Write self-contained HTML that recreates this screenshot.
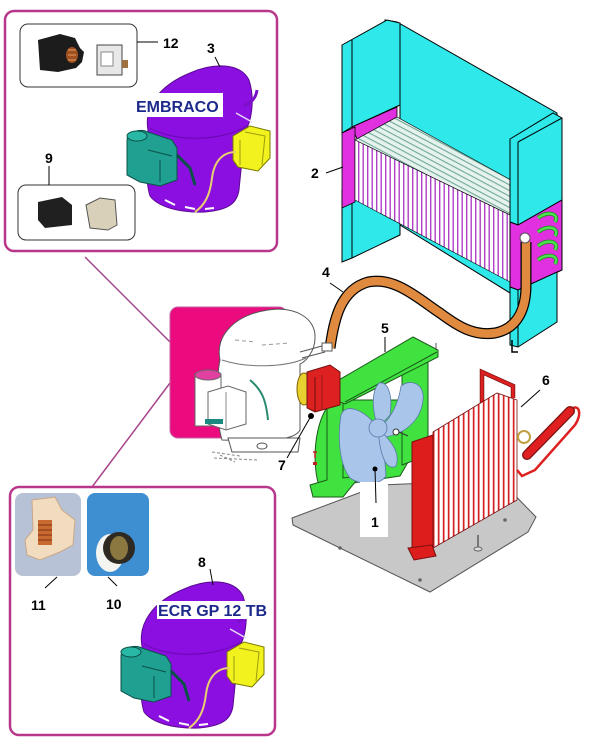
<!DOCTYPE html>
<html><head><meta charset="utf-8"><style>
html,body{margin:0;padding:0;background:#fff;}
svg{display:block;}
text{font-family:"Liberation Sans",Arial,sans-serif;}
</style></head><body>
<svg width="600" height="744" viewBox="0 0 600 744" xmlns="http://www.w3.org/2000/svg">
<defs>
<pattern id="fv" width="4.5" height="10" patternUnits="userSpaceOnUse">
<rect width="4.5" height="10" fill="#fff"/><rect x="2.5" width="1.4" height="10" fill="#b040c8"/>
</pattern>
<pattern id="ft" width="6" height="5" patternUnits="userSpaceOnUse" patternTransform="rotate(28)">
<rect width="6" height="5" fill="#e6f2ee"/><rect y="3.5" width="6" height="1.1" fill="#6fa898"/>
</pattern>
<pattern id="cf" width="5" height="10" patternUnits="userSpaceOnUse">
<rect width="5" height="10" fill="#fff"/><rect x="2.8" width="1.7" height="10" fill="#d42020"/>
</pattern>
<g id="pcomp">
<path d="M148,130 C144,108 158,86 190,73 C212,63 240,62 249,80 C254,95 253,115 247,128 C243,145 241,170 239,190 C237,203 229,210 205,212 C180,213 158,207 150,196 C145,180 146,150 148,130 Z" fill="#8a0fe0" stroke="#5a0a90" stroke-width="1"/>
<path d="M150,128 C175,142 220,142 247,126" stroke="#6a08b0" fill="none"/>
<path d="M244,106 C252,102 256,98 257,90" stroke="#7a10c8" stroke-width="3" fill="none"/>
<path d="M236,113 L252,122" stroke="#e8d8f8" stroke-width="1.5"/>
<path d="M165,200 L175,205 M185,207 L195,209 M205,209 L214,208" stroke="#fff" stroke-width="2"/>
<path d="M127,140 C127,132 140,128 148,132 L172,140 L177,148 L177,180 L160,186 L140,182 L127,175 Z" fill="#1fa090" stroke="#0b5048"/>
<ellipse cx="137" cy="136" rx="10" ry="5" fill="#2ab8a6" stroke="#0b5048"/>
<path d="M148,150 L172,156 M160,160 L160,182" stroke="#0b5048" fill="none"/>
<path d="M177,155 L190,168 L195,185" stroke="#0b5048" stroke-width="3" fill="none"/>
<path d="M233,136 L250,126 L270,131 L270,158 L258,171 L238,167 L233,160 Z" fill="#f2f21e" stroke="#7a7a00"/>
<path d="M245,132 L265,136 L262,165 M240,140 L240,165" stroke="#9a9a10" fill="none"/>
<path d="M236,152 C222,152 214,162 212,178 C210,195 205,205 195,212" stroke="#e8d070" stroke-width="2" fill="none"/>
</g>
</defs>

<!-- TOP BOX -->
<rect x="5" y="11" width="272" height="240" rx="9" fill="#fff" stroke="#b8378a" stroke-width="2.5"/>
<rect x="20" y="24" width="117" height="63" rx="8" fill="#fff" stroke="#333" stroke-width="1"/>
<path d="M38,40 L60,34 L75,38 L80,48 L84,52 L82,62 L76,68 L58,72 L40,70 Z" fill="#1c1c1c"/>
<ellipse cx="72" cy="55" rx="6" ry="8" fill="#a05020"/>
<path d="M68,50 L76,50 M68,55 L76,55 M68,60 L76,60" stroke="#e0a060" stroke-width="1"/>
<rect x="97" y="45" width="25" height="30" fill="#e8e8e8" stroke="#444"/>
<rect x="101" y="52" width="12" height="14" fill="#fff" stroke="#888"/>
<rect x="122" y="60" width="6" height="8" fill="#a07040"/>
<rect x="18" y="185" width="117" height="55" rx="8" fill="#fff" stroke="#333" stroke-width="1"/>
<path d="M38,202 L62,197 L72,205 L72,225 L45,228 L38,220 Z" fill="#202020"/>
<path d="M86,205 L100,198 L115,200 L117,225 L108,230 L90,228 Z" fill="#d8d0b8" stroke="#555"/>
<use href="#pcomp"/>
<rect x="133" y="93" width="90" height="24" fill="#fff"/>
<text x="136" y="112" font-size="16" font-weight="bold" fill="#1c2a8c">EMBRACO</text>
<text x="163" y="48" font-size="14" font-weight="bold" fill="#000">12</text>
<line x1="137" y1="42" x2="158" y2="42" stroke="#000"/>
<text x="207" y="53" font-size="14" font-weight="bold" fill="#000">3</text>
<line x1="215" y1="57" x2="220" y2="67" stroke="#000"/>
<text x="45" y="163" font-size="14" font-weight="bold" fill="#000">9</text>
<line x1="49" y1="166" x2="49" y2="185" stroke="#000"/>

<!-- connecting lines -->
<line x1="85" y1="257" x2="170" y2="342" stroke="#a8448a" stroke-width="1.5"/>
<line x1="170" y1="383" x2="92" y2="487" stroke="#a8448a" stroke-width="1.5"/>

<!-- BOTTOM BOX -->
<rect x="10" y="487" width="265" height="248" rx="9" fill="#fff" stroke="#b8378a" stroke-width="2.5"/>
<rect x="15" y="493" width="66" height="83" rx="8" fill="#b8c2d6"/>
<path d="M32,500 L55,497 L62,510 L75,520 L73,545 L60,552 L40,560 L27,555 L25,540 L33,530 Z" fill="#f2dcc0" stroke="#c8a888"/>
<rect x="38" y="520" width="14" height="25" fill="#c86a30"/>
<path d="M38,525 L52,525 M38,530 L52,530 M38,535 L52,535 M38,540 L52,540" stroke="#803010"/>
<rect x="87" y="493" width="62" height="83" rx="8" fill="#3e8ed2"/>
<ellipse cx="110" cy="553" rx="14" ry="19" fill="#f4f4f0"/>
<circle cx="119" cy="548" r="16" fill="#2e2a22"/>
<ellipse cx="119" cy="548" rx="9" ry="12" fill="#8a7840"/>
<use href="#pcomp" transform="translate(-6,516)"/>
<rect x="157" y="601" width="110" height="18" fill="#fff"/>
<text x="158" y="616" font-size="16" font-weight="bold" fill="#1c2a8c">ECR GP 12 TB</text>
<text x="198" y="567" font-size="14" font-weight="bold" fill="#000">8</text>
<line x1="210" y1="569" x2="213" y2="585" stroke="#000"/>
<text x="31" y="610" font-size="14" font-weight="bold" fill="#000">11</text>
<line x1="45" y1="588" x2="57" y2="577" stroke="#000"/>
<text x="106" y="609" font-size="14" font-weight="bold" fill="#000">10</text>
<line x1="108" y1="577" x2="117" y2="586" stroke="#000"/>

<!-- EVAPORATOR (2) -->
<polygon points="385,20 397,22 557,113 557,300 510,293 400,225 400,100" fill="#2ee8ea" stroke="#000"/>
<polygon points="342,45 387,20 400,23 400,105 352,127 342,133" fill="#2ee8ea" stroke="#000"/>
<line x1="352" y1="40" x2="352" y2="127" stroke="#000"/>
<polygon points="342,190 352,193 400,218 400,235 352,258 342,262" fill="#2ee8ea" stroke="#000"/>
<line x1="352" y1="193" x2="352" y2="258" stroke="#000"/>
<polygon points="352,127 397,107 397,117 357,139" fill="#e030e0" stroke="#000" stroke-width="0.8"/>
<polygon points="342,133 355,127 355,202 342,208" fill="#e030e0" stroke="#000" stroke-width="0.8"/>
<polygon points="355,140 397,117 520,185 510,215" fill="url(#ft)" stroke="#000" stroke-width="0.6"/>
<polygon points="355,140 510,215 510,282 355,200" fill="url(#fv)" stroke="#000" stroke-width="0.6"/>
<polygon points="510,139 553,113 562,118 562,200 518,225 510,222" fill="#2ee8ea" stroke="#000"/>
<line x1="518" y1="142" x2="518" y2="225" stroke="#000"/>
<line x1="518" y1="142" x2="562" y2="118" stroke="#000"/>
<polygon points="510,222 518,225 562,200 562,270 518,290 510,287" fill="#e030e0" stroke="#000"/>
<g fill="none" stroke="#1a8a1a" stroke-width="4">
<path d="M538,218 C548,210 560,214 555,222"/><path d="M538,232 C548,224 560,228 555,236"/>
<path d="M538,246 C548,238 560,242 555,250"/><path d="M538,260 C548,252 560,256 555,264"/>
</g>
<g fill="none" stroke="#4ee04e" stroke-width="2.5">
<path d="M538,218 C548,210 560,214 555,222"/><path d="M538,232 C548,224 560,228 555,236"/>
<path d="M538,246 C548,238 560,242 555,250"/><path d="M538,260 C548,252 560,256 555,264"/>
</g>
<polygon points="510,287 518,290 557,272 557,322 518,347 510,345" fill="#2ee8ea" stroke="#000"/>
<line x1="518" y1="290" x2="518" y2="347" stroke="#000"/>
<path d="M512,340 L512,352 L518,352" stroke="#000" fill="none" stroke-width="1.5"/>

<!-- HOSE (4) -->
<path d="M330,348 C334,320 340,290 368,282 C395,276 420,300 440,313 C460,328 475,336 495,333 C520,328 526,305 526,285 L526,242" stroke="#000" stroke-width="11" fill="none"/>
<path d="M330,348 C334,320 340,290 368,282 C395,276 420,300 440,313 C460,328 475,336 495,333 C520,328 526,305 526,285 L526,242" stroke="#e08a40" stroke-width="8.5" fill="none"/>
<circle cx="525" cy="238" r="5" fill="#fff" stroke="#555"/>
<text x="311" y="178" font-size="14" font-weight="bold" fill="#000">2</text>
<line x1="326" y1="173" x2="343" y2="167" stroke="#000"/>
<text x="322" y="277" font-size="14" font-weight="bold" fill="#000">4</text>
<line x1="330" y1="283" x2="343" y2="292" stroke="#000"/>

<!-- PINK BOX + WHITE COMPRESSOR -->
<rect x="170" y="307" width="117" height="131" rx="8" fill="#ec0b7e" stroke="#c060a0" stroke-width="1"/>
<path d="M222,440 C216,420 216,380 220,360 C215,335 235,315 268,310 C295,306 316,318 315,338 C315,352 305,362 300,364 L300,430 C295,440 270,442 222,440 Z" fill="#fff" stroke="#555" stroke-width="1"/>
<path d="M222,360 C245,368 285,368 306,358" stroke="#777" fill="none"/>
<path d="M235,340 L255,342 M262,345 L290,343" stroke="#999" fill="none" stroke-dasharray="4,3"/>
<rect x="195" y="374" width="26" height="52" fill="#fff" stroke="#666"/>
<ellipse cx="208" cy="375" rx="13" ry="5" fill="#e040a0" stroke="#666"/>
<polygon points="208,392 228,386 246,392 246,424 226,430 208,424" fill="#fff" stroke="#666"/>
<line x1="226" y1="392" x2="226" y2="430" stroke="#888"/>
<path d="M250,380 C262,390 266,400 268,420" stroke="#2a8a70" stroke-width="2" fill="none"/>
<rect x="205" y="419" width="18" height="5" fill="#1a8a80"/>
<path d="M228,438 L300,438 L298,452 L232,452 Z" fill="#fff" stroke="#555"/>
<ellipse cx="262" cy="446" rx="5" ry="3" fill="none" stroke="#555"/>
<path d="M212,452 L240,456 M214,458 L258,460 M220,455 L235,462" stroke="#888" stroke-dasharray="3,2"/>
<path d="M300,352 L322,346 M302,358 L325,352 M300,396 L308,398" stroke="#555"/>
<rect x="322" y="343" width="10" height="8" fill="#fff" stroke="#555"/>

<!-- BASE PLATE -->
<polygon points="292,518 380,485 500,480 536,517 528,532 430,592 293,525" fill="#c8c8c8" stroke="#555"/>
<circle cx="340" cy="548" r="1.8" fill="#666"/><circle cx="420" cy="580" r="1.8" fill="#666"/><circle cx="505" cy="520" r="1.8" fill="#666"/>
<line x1="478" y1="535" x2="478" y2="548" stroke="#777" stroke-width="2"/><ellipse cx="478" cy="549" rx="4" ry="2" fill="#ddd" stroke="#666"/>

<!-- FAN FRAME (5) -->
<path d="M333,400 C312,420 312,470 320,488 L400,476 L412,455 L405,400 Z" fill="#3fe23f" stroke="#1a5a1a"/>
<polygon points="402,372 428,352 428,455 402,465" fill="#3fe23f" stroke="#1a5a1a"/>
<polygon points="327,390 343,400 343,478 360,476 343,497 313,497 310,485 327,480" fill="#3fe23f" stroke="#1a5a1a"/>
<polygon points="325,388 413,337 438,350 438,357 345,404 325,396" fill="#3fe23f" stroke="#1a5a1a"/>
<line x1="345" y1="402" x2="437" y2="352" stroke="#1a5a1a"/>
<line x1="436" y1="350" x2="436" y2="343" stroke="#555"/>
<!-- fan blades (1) -->
<g fill="#a9c6ea" stroke="#5a78a8" stroke-width="0.8">
<path d="M378,428 C365,410 346,402 341,415 C337,440 340,465 350,478 C362,486 380,485 386,476 C385,460 383,440 378,428 Z"/>
<path d="M378,428 C372,410 371,392 379,383 C388,381 393,395 390,415 Z"/>
<path d="M378,428 C392,420 399,400 401,386 C411,378 425,384 423,400 C421,420 405,434 385,437 Z"/>
<path d="M378,428 C390,440 401,452 396,466 C388,471 380,460 378,428 Z"/>
<circle cx="378" cy="428" r="9"/>
</g>
<circle cx="396" cy="432" r="3" fill="#fff" stroke="#333"/>
<line x1="399" y1="432" x2="408" y2="436" stroke="#333"/>

<!-- MOTOR (7) -->
<ellipse cx="304" cy="389" rx="7" ry="16" fill="#e8d030" stroke="#806000"/>
<polygon points="307,372 330,365 340,372 340,405 315,412 307,408" fill="#dd2020" stroke="#701010"/>
<line x1="315" y1="377" x2="315" y2="411" stroke="#701010"/>
<line x1="322" y1="375" x2="322" y2="409" stroke="#a01818"/>
<circle cx="311" cy="416" r="3" fill="#000"/>
<line x1="287" y1="458" x2="311" y2="416" stroke="#000"/>
<text x="278" y="470" font-size="14" font-weight="bold" fill="#000">7</text>
<path d="M315,452 L315,458 M313,452 L317,452" stroke="#c02020" stroke-width="1.5"/>
<rect x="313" y="462" width="4" height="3" fill="#c02020"/>

<!-- CONDENSER (6) -->
<path d="M482,432 L482,372 L513,386 L513,398" stroke="#7a1010" stroke-width="4.5" fill="none"/>
<path d="M482,432 L482,372 L513,386 L513,398" stroke="#dd2020" stroke-width="3" fill="none"/>
<polygon points="433,432 497,393 517,400 517,500 433,548" fill="url(#cf)" stroke="#7a1010" stroke-width="0.8"/>
<polygon points="412,442 433,435 433,547 412,553" fill="#dd1c1c" stroke="#7a1010"/>
<polygon points="408,548 432,545 436,556 414,560" fill="#dd1c1c" stroke="#7a1010"/>
<path d="M517,470 L522,476 L535,470 L575,425 C582,415 580,402 570,410" stroke="#dd2020" stroke-width="2.5" fill="none"/>
<line x1="527" y1="455" x2="570" y2="411" stroke="#7a1010" stroke-width="10" stroke-linecap="round"/>
<line x1="527" y1="455" x2="570" y2="411" stroke="#e02020" stroke-width="7.5" stroke-linecap="round"/>
<circle cx="524" cy="437" r="6" fill="none" stroke="#c0a040" stroke-width="2"/>
<text x="542" y="385" font-size="14" font-weight="bold" fill="#000">6</text>
<line x1="540" y1="390" x2="521" y2="407" stroke="#000"/>

<!-- label 1 & 5 -->
<rect x="360" y="482" width="28" height="55" fill="#fff"/>
<circle cx="375" cy="469" r="2.5" fill="#000"/>
<line x1="375" y1="469" x2="376" y2="503" stroke="#000"/>
<text x="371" y="527" font-size="14" font-weight="bold" fill="#000">1</text>
<text x="381" y="333" font-size="14" font-weight="bold" fill="#000">5</text>
<line x1="385" y1="337" x2="385" y2="352" stroke="#000"/>
</svg>
</body></html>
